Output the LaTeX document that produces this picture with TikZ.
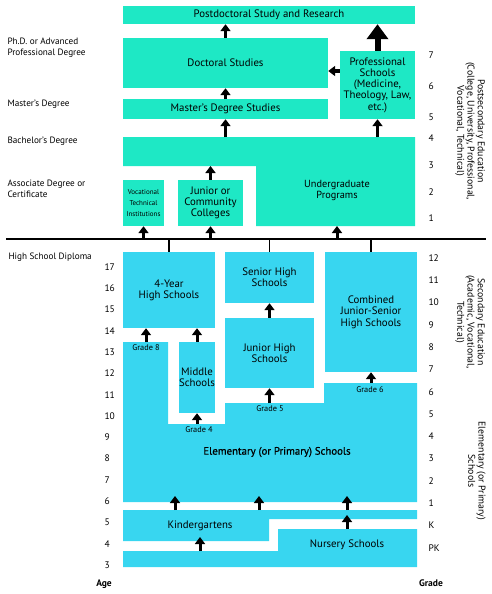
\documentclass[tikz,border=0pt]{standalone}
\usepackage{fontspec}
\setmainfont{PT Sans}
\newfontfamily\semib[FakeBold=0.7]{PT Sans}
\usetikzlibrary{arrows.meta}
\definecolor{post}{HTML}{1EE8C5}
\definecolor{sec}{HTML}{38D6F0}
\tikzset{
	box/.style={inner sep=0pt,align=center,font=\fontsize{10.8}{11.3}\selectfont},
	arr/.style={-{Triangle[width=10pt,length=7pt]},line width=3pt},
	bigarr/.style={-{Triangle[width=21pt,length=15pt]},line width=6pt},
	side/.style={anchor=west,align=left,font=\fontsize{9.2}{11}\selectfont},
	num/.style={anchor=west,font=\fontsize{9.5}{11}\selectfont},
	grd/.style={font=\fontsize{8.3}{9}\selectfont},
	sect/.style={rotate=-90,align=center,font=\fontsize{9.8}{10.3}\selectfont}
}
\begin{document}
\begin{tikzpicture}[x=1pt,y=-1pt]
	\useasboundingbox (0,0) rectangle (492,594);
	% postsecondary
	\begin{scope}\tikzset{every node/.style={box,fill=post}}
	\node[minimum width=292pt,minimum height=18pt] (postdoc) at (269,15) {Postdoctoral Study and Research};
	\node[minimum width=205pt,minimum height=50pt] (doc) at (225.5,63) {Doctoral Studies};
	\node[minimum width=205pt,minimum height=20pt] (ms) at (225.5,109) {Master's Degree Studies};
	\node[minimum width=75pt,minimum height=68pt] (prof) at (377.5,85) {Professional\\Schools\\(Medicine,\\Theology, Law,\\etc.)};
	\node[minimum width=41pt,minimum height=46pt,font=\fontsize{7}{11}\selectfont] (voc) at (143.5,203) {Vocational\\Technical\\Institutions};
	\node[minimum width=65pt,minimum height=46pt] (jc) at (210.5,203) {Junior or\\Community\\Colleges};
	\end{scope}
	\coordinate (u1) at (123,137); \coordinate (u2) at (415,137);
	\coordinate (u3) at (415,226); \coordinate (u4) at (256,226);
	\coordinate (u5) at (256,166); \coordinate (u6) at (123,166);
	\fill[post] (u1) -- (u2) -- (u3) -- (u4) -- (u5) -- (u6) -- cycle;
	\node[box,font=\fontsize{10.3}{11}\selectfont] (ug) at (337,190) {Undergraduate\\Programs};
	% secondary
	\begin{scope}\tikzset{every node/.style={box,fill=sec}}
	\node[minimum width=92pt,minimum height=76pt] (hs4) at (169,290) {4-Year\\High Schools};
	\node[minimum width=89pt,minimum height=51pt] (shs) at (269.5,277.5) {Senior High\\Schools};
	\node[minimum width=89pt,minimum height=70pt] (jhs) at (269.5,353) {Junior High\\Schools};
	\node[minimum width=92pt,minimum height=120pt] (comb) at (371,312) {Combined\\Junior-Senior\\High Schools};
	\node[minimum width=36pt,minimum height=71pt] (mid) at (197,377.5) {Middle\\Schools};
	\end{scope}
	\coordinate (e1) at (123,342); \coordinate (e2) at (168,342);
	\coordinate (e3) at (168,424); \coordinate (e4) at (225,424);
	\coordinate (e5) at (225,403); \coordinate (e6) at (324,403);
	\coordinate (e7) at (324,383); \coordinate (e8) at (417,383);
	\coordinate (e9) at (417,502); \coordinate (e10) at (123,502);
	\fill[sec] (e1) -- (e2) -- (e3) -- (e4) -- (e5) -- (e6) -- (e7) -- (e8) -- (e9) -- (e10) -- cycle;
	\coordinate (k1) at (123,510); \coordinate (k2) at (417,510);
	\coordinate (k3) at (417,519); \coordinate (k4) at (269,519);
	\coordinate (k5) at (269,541); \coordinate (k6) at (123,541);
	\fill[sec] (k1) -- (k2) -- (k3) -- (k4) -- (k5) -- (k6) -- cycle;
	\coordinate (n1) at (123,551); \coordinate (n2) at (278,551);
	\coordinate (n3) at (278,529); \coordinate (n4) at (417,529);
	\coordinate (n5) at (417,567); \coordinate (n6) at (123,567);
	\fill[sec] (n1) -- (n2) -- (n3) -- (n4) -- (n5) -- (n6) -- cycle;
	\node[box,font=\fontsize{10.8}{11}\semib] (el) at (277,452) {Elementary (or Primary) Schools};
	\node[box] (kg) at (200,526) {Kindergartens};
	\node[box] (ns) at (347,545) {Nursery Schools};
	\node[grd] (g8) at (146,348) {Grade 8};
	\node[grd] (g4) at (199,430) {Grade 4};
	\node[grd] (g5) at (270,409) {Grade 5};
	\node[grd] (g6) at (370,390) {Grade 6};
	\coordinate (ka) at (175,510); \coordinate (kb) at (259,510);
	% diploma line
	\coordinate (rl) at (6,239); \coordinate (rr) at (486,239);
	\draw[line width=2.5pt] (rl) -- (rr);
	\draw[line width=1.2pt] (hs4.north) -- (hs4.north |- rl)
		(shs.north) -- (shs.north |- rl) (comb.north) -- (comb.north |- rl);
	% arrows
	\begin{scope}
		\path[arr] (voc.south |- rl) edge (voc.south) (jc.south |- rl) edge (jc.south)
			(ug |- rl) edge (ug |- u4);
		\path[arr] (jc.north) edge (jc.north |- u6) (ms.south |- u1) edge (ms.south)
			(ms.north) edge (doc.south) (doc.north) edge (doc.north |- postdoc.south)
			(prof.south |- u1) edge (prof.south);
		\draw[arr] ([yshift=14pt]prof.west) -- ([yshift=14pt]prof.west -| doc.east);
		\draw[bigarr] (prof.north) -- (prof.north |- postdoc.south);
		\path[arr] (g8 |- e1) edge (g8 |- hs4.south) (mid.north) edge (mid.north |- hs4.south)
			(mid.south |- e4) edge (mid.south) (jhs.south |- e5) edge (jhs.south)
			(jhs.north) edge (shs.south) (comb.south |- e7) edge (comb.south);
		\path[arr,shorten >=-6pt] (ka) edge (ka |- e9) (kb) edge (kb |- e9)
			(ns |- k1) edge (ns |- e9);
		\path[arr,shorten >=-4pt] (ns |- n3) edge (ns |- k3) (kg |- n1) edge (kg |- k6);
	\end{scope}
	% left labels
	\node[side] (phd) at (4,47.5) {Ph.D. or Advanced\\Professional Degree};
	\node[side] (mdeg) at (4,104) {Master's Degree};
	\node[side] (bdeg) at (4,141) {Bachelor's Degree};
	\node[side] (adeg) at (4,189) {Associate Degree or\\Certificate};
	\node[side] (hsd) at (5,257) {High School Diploma};
	% ages and grades
	\foreach \a in {3,...,17}
		\node[num] at (101,{267+(17-\a)*21.29}) {\a};
	\foreach \g [count=\i from 0] in {12,11,10,9,8,7,6,5,4,3,2,1,K,PK}
		\node[num] at (425,{258+\i*22.3}) {\g};
	\foreach \g/\y in {7/55,6/86,5/117,4/138,3/165,2/192,1/218}
		\node[num] at (425,\y) {\g};
	\node[font=\fontsize{9.5}{11}\selectfont\bfseries] (age) at (104,584) {Age};
	\node[font=\fontsize{9.5}{11}\selectfont\bfseries] (grade) at (431,583) {Grade};
	% side titles
	\node[sect] (pse) at (470,131) {Postsecondary Education\\(College, University, Professional,\\Vocational, Technical)};
	\node[sect] (sed) at (470,322) {Secondary Education\\(Academic, Vocational,\\Technical)};
	\node[sect] (eed) at (477,471) {Elementary (or Primary)\\Schools};
\end{tikzpicture}
\end{document}
